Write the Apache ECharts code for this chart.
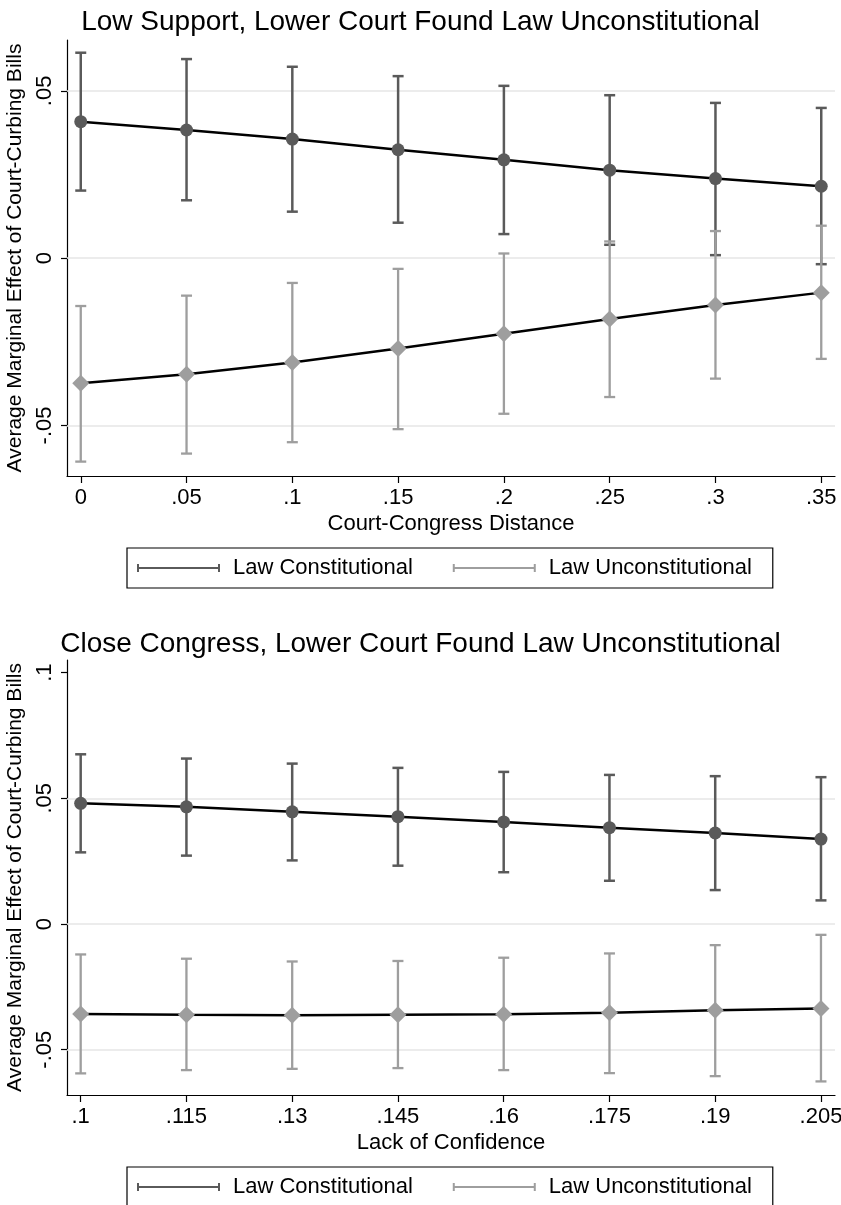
<!DOCTYPE html>
<html>
<head>
<meta charset="utf-8">
<script src="https://cdn.jsdelivr.net/npm/echarts@6/dist/echarts.min.js"></script>
<style>
  html, body { margin: 0; padding: 0; background: #fff; }
  #chart { width: 841px; height: 1205px; }
</style>
</head>
<body>
<div id="chart"></div>
<script>
// ---------- DATA ----------
const seriesNames = ['Law Constitutional', 'Law Unconstitutional'];

// Top panel: Low Support, Lower Court Found Law Unconstitutional
const topTitle = 'Low Support, Lower Court Found Law Unconstitutional';
const topXName = 'Court-Congress Distance';
const topX = [0, 0.05, 0.1, 0.15, 0.2, 0.25, 0.3, 0.35];
const topXLabels = ['0', '.05', '.1', '.15', '.2', '.25', '.3', '.35'];
const topYTicks = [-0.05, 0, 0.05];
const topYLabels = ['-.05', '0', '.05'];
const topConstEst = [0.0408, 0.0383, 0.0356, 0.0324, 0.0294, 0.0263, 0.0238, 0.0215];
const topConstLo  = [0.0202, 0.0173, 0.0139, 0.0106, 0.0072, 0.0040, 0.0009, -0.0018];
const topConstHi  = [0.0614, 0.0595, 0.0572, 0.0544, 0.0515, 0.0487, 0.0464, 0.0449];
const topUncEst = [-0.0374, -0.0347, -0.0312, -0.0270, -0.0226, -0.0182, -0.0140, -0.0103];
const topUncLo  = [-0.0608, -0.0584, -0.0550, -0.0511, -0.0465, -0.0415, -0.0360, -0.0301];
const topUncHi  = [-0.0143, -0.0112, -0.0074, -0.0032, 0.0014, 0.0050, 0.0081, 0.0097];

// Bottom panel: Close Congress, Lower Court Found Law Unconstitutional
const botTitle = 'Close Congress, Lower Court Found Law Unconstitutional';
const botXName = 'Lack of Confidence';
const botX = [0.1, 0.115, 0.13, 0.145, 0.16, 0.175, 0.19, 0.205];
const botXLabels = ['.1', '.115', '.13', '.145', '.16', '.175', '.19', '.205'];
const botYTicks = [-0.05, 0, 0.05, 0.1];
const botYLabels = ['-.05', '0', '.05', '.1'];
const botGrid = [-0.05, 0, 0.05];
const botConstEst = [0.0480, 0.0466, 0.0446, 0.0427, 0.0406, 0.0383, 0.0362, 0.0338];
const botConstLo  = [0.0285, 0.0272, 0.0253, 0.0232, 0.0206, 0.0172, 0.0135, 0.0094];
const botConstHi  = [0.0675, 0.0658, 0.0638, 0.0621, 0.0605, 0.0593, 0.0588, 0.0584];
const botUncEst = [-0.0358, -0.0361, -0.0363, -0.0361, -0.0359, -0.0353, -0.0343, -0.0336];
const botUncLo  = [-0.0594, -0.0581, -0.0576, -0.0573, -0.0581, -0.0593, -0.0605, -0.0626];
const botUncHi  = [-0.0121, -0.0138, -0.0149, -0.0147, -0.0134, -0.0117, -0.0084, -0.0043];

const yTitle = 'Average Marginal Effect of Court-Curbing Bills';

// ---------- STYLE ----------
const FONT = '"Liberation Sans", Arial, Helvetica, sans-serif';
const DARK = '#5a5a5a';
const LIGHT = '#9e9e9e';
const GRIDC = '#e6e6e6';

function labelFmt(ticks, labels) {
  return function (v) {
    for (let i = 0; i < ticks.length; i++) {
      if (Math.abs(ticks[i] - v) < 1e-9) return labels[i];
    }
    return '';
  };
}

function errRender(color, width) {
  return function (params, api) {
    const x = api.value(0), lo = api.value(1), hi = api.value(2);
    const a = api.coord([x, lo]), b = api.coord([x, hi]);
    const cw = 5.5;
    const style = { stroke: color, lineWidth: width, fill: null };
    return {
      type: 'group',
      children: [
        { type: 'line', shape: { x1: a[0], y1: a[1], x2: b[0], y2: b[1] }, style: style },
        { type: 'line', shape: { x1: a[0] - cw, y1: a[1], x2: a[0] + cw, y2: a[1] }, style: style },
        { type: 'line', shape: { x1: b[0] - cw, y1: b[1], x2: b[0] + cw, y2: b[1] }, style: style }
      ]
    };
  };
}

function zip3(x, lo, hi) { return x.map((v, i) => [v, lo[i], hi[i]]); }
function zip2(x, y) { return x.map((v, i) => [v, y[i]]); }

function xAxisDef(idx, min, max, ticks, labels, name) {
  return {
    type: 'value', gridIndex: idx, min: min, max: max,
    name: name, nameLocation: 'middle', nameGap: 37,
    nameTextStyle: { fontFamily: FONT, fontSize: 22, color: '#000' },
    axisLine: { show: true, onZero: false, lineStyle: { color: '#000', width: 1.2 } },
    axisTick: { show: true, length: 7, customValues: ticks, lineStyle: { color: '#000', width: 1.2 } },
    axisLabel: { show: true, customValues: ticks, formatter: labelFmt(ticks, labels), margin: 11,
                 fontFamily: FONT, fontSize: 22, color: '#000' },
    splitLine: { show: false }
  };
}
function yAxisDef(idx, min, max, ticks, labels) {
  return {
    type: 'value', gridIndex: idx, min: min, max: max,
    name: yTitle, nameLocation: 'middle', nameGap: 41, nameRotate: 90,
    nameTextStyle: { fontFamily: FONT, fontSize: 21, color: '#000' },
    axisLine: { show: true, onZero: false, lineStyle: { color: '#000', width: 1.2 } },
    axisTick: { show: true, length: 6, customValues: ticks, lineStyle: { color: '#000', width: 1.2 } },
    axisLabel: { show: true, customValues: ticks, formatter: labelFmt(ticks, labels), rotate: 90, margin: 11,
                 fontFamily: FONT, fontSize: 22, color: '#000' },
    splitLine: { show: false }
  };
}

function gridSeries(idx, vals) {
  return {
    type: 'line', xAxisIndex: idx, yAxisIndex: idx, data: [], silent: true, z: 1,
    markLine: {
      silent: true, symbol: ['none', 'none'], z: 1,
      label: { show: false },
      lineStyle: { color: GRIDC, width: 1.6, type: 'solid' },
      emphasis: { disabled: true },
      data: vals.map(v => ({ yAxis: v }))
    }
  };
}

function panelSeries(idx, x, cEst, cLo, cHi, uEst, uLo, uHi, grid) {
  return [
    gridSeries(idx, grid),
    { name: seriesNames[0], type: 'custom', xAxisIndex: idx, yAxisIndex: idx, z: 2,
      itemStyle: { color: DARK }, renderItem: errRender(DARK, 2.5),
      encode: { x: 0, y: [1, 2] }, data: zip3(x, cLo, cHi) },
    { name: seriesNames[1], type: 'custom', xAxisIndex: idx, yAxisIndex: idx, z: 2,
      itemStyle: { color: LIGHT }, renderItem: errRender(LIGHT, 2.3),
      encode: { x: 0, y: [1, 2] }, data: zip3(x, uLo, uHi) },
    { name: 'est1_' + idx, type: 'line', xAxisIndex: idx, yAxisIndex: idx, z: 3,
      symbol: 'circle', symbolSize: 13, showSymbol: true,
      lineStyle: { color: '#000', width: 2.5 }, itemStyle: { color: DARK },
      data: zip2(x, cEst) },
    { name: 'est2_' + idx, type: 'line', xAxisIndex: idx, yAxisIndex: idx, z: 3,
      symbol: 'diamond', symbolSize: 17, showSymbol: true,
      lineStyle: { color: '#000', width: 2.5 }, itemStyle: { color: LIGHT },
      data: zip2(x, uEst) }
  ];
}

const ICON = 'path://M91,4 M0,0h2v8h-2z M0,3h83v2h-83z M81,0h2v8h-2z';
function legendDef(top) {
  return {
    left: 127, top: top, orient: 'horizontal',
    padding: [9, 21, 9, 10], itemGap: 40, itemWidth: 91, itemHeight: 8,
    borderColor: '#000', borderWidth: 1.2, selectedMode: false,
    textStyle: { fontFamily: FONT, fontSize: 22, color: '#000' },
    data: [
      { name: seriesNames[0], icon: ICON, itemStyle: { color: DARK } },
      { name: seriesNames[1], icon: ICON, itemStyle: { color: LIGHT } }
    ]
  };
}

const option = {
  backgroundColor: '#fff',
  animation: false,
  title: [
    { text: topTitle, left: 'center', top: 8, padding: 0,
      textStyle: { fontFamily: FONT, fontSize: 28, fontWeight: 'normal', color: '#000' } },
    { text: botTitle, left: 'center', top: 630, padding: 0,
      textStyle: { fontFamily: FONT, fontSize: 28, fontWeight: 'normal', color: '#000' } }
  ],
  legend: [legendDef(548), legendDef(1167)],
  grid: [
    { left: 67, top: 40, width: 768, height: 436, containLabel: false, outerBoundsMode: 'none' },
    { left: 67, top: 660, width: 768, height: 435, containLabel: false, outerBoundsMode: 'none' }
  ],
  xAxis: [
    xAxisDef(0, -0.0065, 0.3565, topX, topXLabels, topXName),
    xAxisDef(1, 0.09806, 0.20699, botX, botXLabels, botXName)
  ],
  yAxis: [
    yAxisDef(0, -0.0651, 0.0652, topYTicks, topYLabels),
    yAxisDef(1, -0.068, 0.105, botYTicks, botYLabels)
  ],
  series: [].concat(
    panelSeries(0, topX, topConstEst, topConstLo, topConstHi, topUncEst, topUncLo, topUncHi, topYTicks),
    panelSeries(1, botX, botConstEst, botConstLo, botConstHi, botUncEst, botUncLo, botUncHi, botGrid)
  )
};

const chart = echarts.init(document.getElementById('chart'), null, { renderer: 'canvas' });
chart.setOption(option);
</script>
</body>
</html>
